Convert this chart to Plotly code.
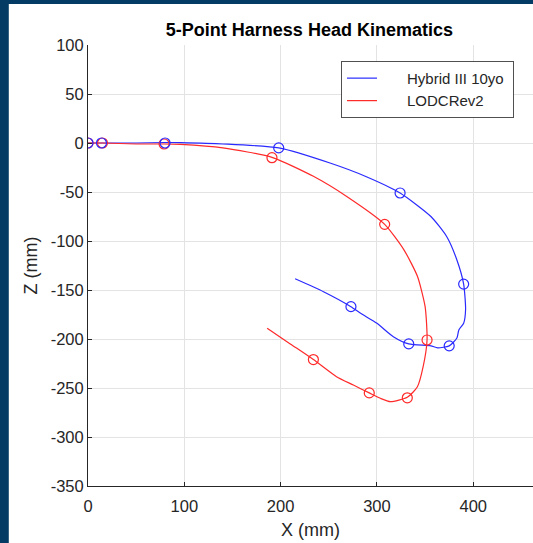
import plotly.graph_objects as go

# Hybrid III 10yo head path (X, Z in mm)
blue_x = [0, 14, 50, 80, 96, 140, 198, 252, 289, 324, 356, 372.5, 383, 390, 392, 390, 385, 383, 375, 363, 356, 333, 317, 300, 283, 273, 244.5, 215]
blue_z = [0, 0, 0, 0.5, 0.3, -1, -5, -20.7, -34.4, -51, -75, -95.6, -119.4, -144, -170, -184, -190.8, -199, -207, -209, -207, -205, -197.6, -184, -173.8, -167, -151.7, -138.5]
blue_mx = [0, 14, 80, 198, 324, 390, 375, 333, 273]
blue_mz = [0, 0, 0, -5, -51, -144, -207, -205, -167]

# LODCRev2 head path
red_x = [0, 15, 50, 79, 96, 140, 191, 234, 269, 308, 328, 342, 350, 352, 348, 342, 331.5, 314, 303.5, 292, 275.5, 258, 234, 210, 186]
red_z = [0, 0, -1, -1, -1.5, -5, -14.6, -34, -54.8, -83, -109, -136, -167, -201, -228, -248.7, -259.5, -264, -260.5, -255, -247, -238.5, -221, -205, -189]
red_mx = [0, 15, 79, 191, 308, 352, 331.5, 292, 234]
red_mz = [0, 0, -1, -15, -83, -201, -260, -255, -221]

series_names = ["Hybrid III 10yo", "LODCRev2"]
x_ticks = [0, 100, 200, 300, 400]
y_ticks = [100, 50, 0, -50, -100, -150, -200, -250, -300, -350]

BLUE = "#2a2aff"
RED = "#ff2a2a"
FONT = "Arial, 'Liberation Sans', sans-serif"
TXT = "#262626"
PAD = "\u00a0" * 6

fig = go.Figure()
fig.add_trace(go.Scatter(x=blue_x, y=blue_z, mode="lines", name=PAD + series_names[0] + "\u00a0",
                         line=dict(color=BLUE, width=1.2, shape="spline", smoothing=0.6)))
fig.add_trace(go.Scatter(x=red_x, y=red_z, mode="lines", name=PAD + series_names[1],
                         line=dict(color=RED, width=1.2, shape="spline", smoothing=0.6)))
fig.add_trace(go.Scatter(x=red_mx, y=red_mz, mode="markers", showlegend=False,
                         marker=dict(symbol="circle-open", size=10, color=RED, line=dict(width=1.2))))
fig.add_trace(go.Scatter(x=blue_mx, y=blue_mz, mode="markers", showlegend=False,
                         marker=dict(symbol="circle-open", size=10, color=BLUE, line=dict(width=1.2))))

fig.add_shape(type="rect", xref="paper", yref="paper", x0=-0.178, x1=1.2, y0=-0.3, y1=1.093,
              fillcolor="white", line=dict(width=0), layer="below")

fig.update_layout(
    width=533, height=543,
    margin=dict(l=88, r=0, t=45, b=57),
    paper_bgcolor="#043b64", plot_bgcolor="white",
    font=dict(family=FONT, color=TXT, size=16.5),
    title=dict(text="<b>5-Point Harness Head Kinematics</b>", x=0.5805, xref="container",
               xanchor="center", y=1 - 30/543, yref="container", yanchor="middle",
               font=dict(size=18, color="black")),
    legend=dict(x=(341 - 88) / 445, y=0.964, xanchor="left", yanchor="top", bgcolor="white",
                bordercolor="#505050", borderwidth=1, font=dict(size=15, color=TXT)),
    showlegend=True,
)
fig.update_xaxes(range=[0, 462], tickvals=x_ticks, ticktext=[str(v) for v in x_ticks],
                 showgrid=True, gridcolor="#e3e3e3",
                 zeroline=False, showline=True, linecolor=TXT, linewidth=1,
                 ticks="inside", ticklen=4, tickcolor=TXT, ticklabelstandoff=5,
                 title=dict(text="X (mm)", font=dict(size=18), standoff=9))
fig.update_yaxes(range=[-350, 100], tickvals=y_ticks, ticktext=[str(v) for v in y_ticks],
                 showgrid=True, gridcolor="#e3e3e3",
                 zeroline=False, showline=True, linecolor=TXT, linewidth=1,
                 ticks="inside", ticklen=4, tickcolor=TXT,
                 title=dict(text="Z (mm)", font=dict(size=18), standoff=8))

fig.write_html("out.html", config={"displayModeBar": False},
               post_script="document.body.style.margin='0';document.body.style.overflow='hidden';")
